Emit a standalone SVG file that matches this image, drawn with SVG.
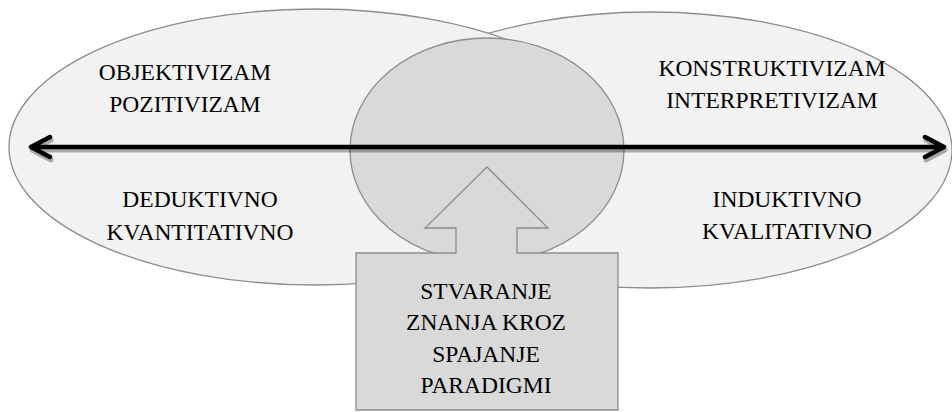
<svg xmlns="http://www.w3.org/2000/svg" width="952" height="412" viewBox="0 0 952 412">
<defs>
<style>
.ell{fill:#f2f2f2;stroke:#8c8c8c;stroke-width:1.3}
.mid{fill:#d9d9d9;stroke:#8c8c8c;stroke-width:1.3}
.arr{fill:none;stroke:#000;stroke-width:4.5;stroke-linecap:round;stroke-linejoin:round}
.sh{fill:none;stroke:#000;stroke-opacity:0.3;stroke-width:5;stroke-linecap:round;stroke-linejoin:round}
</style>
</defs>
<rect width="952" height="412" fill="#fff"/>
<g id="right-ellipse">
<ellipse class="ell" cx="650" cy="150" rx="302" ry="138"/>
</g>
<g id="left-ellipse">
<ellipse class="ell" cx="315" cy="147" rx="306" ry="138"/>
</g>
<g id="middle-circle">
<ellipse class="mid" cx="487" cy="150" rx="137" ry="112"/>
</g>
<g id="up-arrow-box">
<path class="mid" d="M456,253 L456,228 L425,228 L487,167 L548,228 L517,228 L517,253 L618,253 L618,410 L356,410 L356,253 Z"/>
<text x="486" y="299" font-family="Liberation Serif, serif" font-size="23.5px" text-anchor="middle">STVARANJE</text>
<text x="486" y="330" font-family="Liberation Serif, serif" font-size="23.5px" text-anchor="middle">ZNANJA KROZ</text>
<text x="486" y="362" font-family="Liberation Serif, serif" font-size="23.5px" text-anchor="middle">SPAJANJE</text>
<text x="486" y="393" font-family="Liberation Serif, serif" font-size="23.5px" text-anchor="middle">PARADIGMI</text>
</g>
<g id="left-labels">
<text x="185" y="80" font-family="Liberation Serif, serif" font-size="23.5px" text-anchor="middle">OBJEKTIVIZAM</text>
<text x="185" y="112" font-family="Liberation Serif, serif" font-size="23.5px" text-anchor="middle">POZITIVIZAM</text>
<text x="200" y="207" font-family="Liberation Serif, serif" font-size="23.5px" text-anchor="middle">DEDUKTIVNO</text>
<text x="200" y="240" font-family="Liberation Serif, serif" font-size="23.5px" text-anchor="middle">KVANTITATIVNO</text>
</g>
<g id="right-labels">
<text x="772" y="76" font-family="Liberation Serif, serif" font-size="23.5px" text-anchor="middle">KONSTRUKTIVIZAM</text>
<text x="772" y="108" font-family="Liberation Serif, serif" font-size="23.5px" text-anchor="middle">INTERPRETIVIZAM</text>
<text x="787" y="207" font-family="Liberation Serif, serif" font-size="23.5px" text-anchor="middle">INDUKTIVNO</text>
<text x="787" y="239" font-family="Liberation Serif, serif" font-size="23.5px" text-anchor="middle">KVALITATIVNO</text>
</g>
<g id="connectors">
<path class="sh" transform="translate(1,3)" d="M32,147 L943,147 M50,137 L31,147 L50,157 M925,137 L944,147 L925,157"/>
<path class="arr" d="M32,147 L943,147 M50,137 L31,147 L50,157 M925,137 L944,147 L925,157"/>
</g>
</svg>
